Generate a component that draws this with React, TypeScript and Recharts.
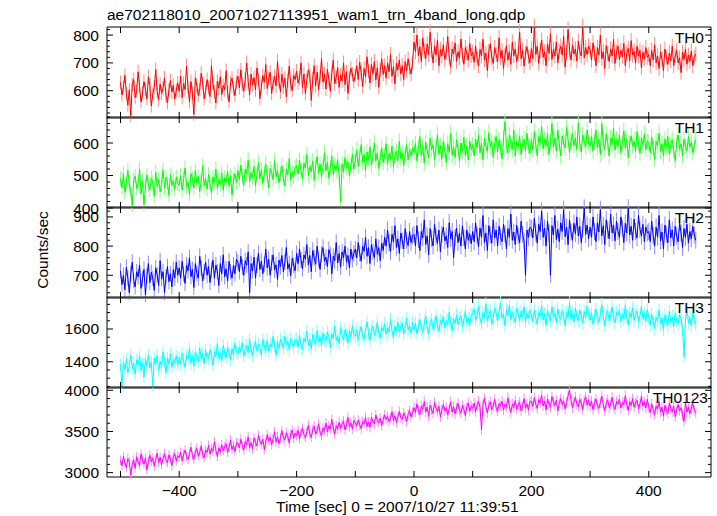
import React from 'react';
import { LineChart, Line, XAxis, YAxis, ErrorBar, ReferenceArea, ReferenceLine } from 'recharts';

// WAM light curves, 2.5 s steps from -500 s to 480 s
const TH0_VALUES = [
  630, 585, 612, 655, 590, 548, 603, 510, 622, 640, 575, 598, 668, 615, 560, 592, 633, 605, 571, 650,
  620, 545, 588, 612, 676, 598, 567, 624, 590, 610, 645, 582, 556, 603, 637, 595, 619, 570, 600, 628,
  598, 652, 575, 626, 604, 688, 611, 560, 633, 592, 515, 646, 620, 583, 605, 663, 628, 571, 598, 640,
  612, 579, 690, 625, 597, 556, 634, 609, 650, 586, 619, 603, 672, 594, 560, 628, 645, 607, 582, 630,
  652, 610, 675, 623, 598, 641, 700, 633, 586, 660, 621, 647, 603, 682, 639, 572, 616, 655, 630, 694,
  608, 643, 666, 590, 628, 651, 617, 705, 634, 596, 660, 612, 645, 578, 637, 689, 622, 601, 655, 640,
  670, 628, 645, 700, 612, 660, 590, 638, 675, 655, 565, 642, 690, 618, 667, 603, 650, 715, 631, 659,
  606, 677, 640, 598, 664, 710, 625, 648, 683, 612, 657, 635, 700, 622, 668, 590, 645, 681, 660, 633,
  655, 690, 640, 702, 666, 615, 680, 650, 722, 671, 628, 695, 660, 705, 638, 682, 612, 674, 715, 659,
  690, 645, 700, 668, 730, 652, 686, 625, 698, 675, 710, 660, 690, 640, 705, 672, 715, 683, 660, 700,
  775, 740, 800, 725, 758, 705, 790, 742, 716, 768, 730, 810, 745, 700, 760, 728, 782, 690, 748, 725,
  765, 712, 738, 795, 720, 686, 750, 732, 772, 705, 740, 718, 786, 728, 695, 755, 735, 710, 770, 726,
  738, 702, 760, 715, 690, 748, 725, 785, 710, 735, 672, 742, 768, 720, 698, 755, 730, 705, 790, 718,
  745, 680, 728, 762, 710, 740, 695, 775, 726, 750, 705, 732, 810, 715, 745, 688, 735, 758, 722, 700,
  752, 715, 830, 730, 760, 698, 745, 782, 720, 740, 690, 768, 735, 805, 712, 748, 725, 775, 700, 742,
  760, 728, 795, 685, 738, 820, 745, 710, 765, 732, 750, 706, 778, 740, 725, 830, 718, 755, 730, 760,
  748, 710, 772, 735, 690, 755, 728, 800, 715, 740, 680, 762, 733, 705, 750, 725, 785, 698, 738, 760,
  712, 745, 722, 770, 690, 735, 752, 708, 780, 728, 742, 700, 760, 725, 745, 682, 738, 715, 755, 720,
  730, 690, 745, 710, 765, 700, 725, 680, 740, 715, 672, 750, 720, 695, 735, 708, 760, 690, 725, 745,
  700, 718, 665, 738, 712, 750, 695, 728, 705, 742, 690, 720, 732,
];

const TH1_VALUES = [
  490, 462, 505, 448, 478, 515, 470, 452, 408, 487, 498, 460, 476, 520, 443, 483, 410, 468, 502, 471,
  455, 492, 480, 436, 510, 466, 488, 449, 473, 517, 461, 495, 478, 440, 502, 469, 485, 457, 496, 474,
  470, 500, 455, 488, 523, 466, 479, 442, 506, 490, 462, 515, 478, 497, 450, 484, 530, 468, 491, 458,
  503, 475, 446, 495, 482, 520, 461, 488, 472, 508, 455, 494, 480, 512, 467, 499, 440, 486, 505, 478,
  515, 488, 532, 497, 470, 520, 505, 548, 482, 510, 494, 528, 468, 503, 540, 490, 518, 476, 507, 535,
  499, 462, 522, 510, 487, 545, 496, 515, 478, 505, 530, 491, 468, 520, 503, 552, 486, 512, 495, 525,
  530, 505, 548, 515, 490, 538, 522, 565, 500, 528, 512, 545, 485, 530, 558, 508, 536, 495, 527, 570,
  515, 540, 492, 525, 560, 503, 532, 518, 548, 498, 420, 535, 512, 555, 525, 542, 500, 530, 565, 520,
  545, 578, 528, 560, 595, 540, 565, 515, 572, 550, 588, 532, 558, 600, 545, 570, 522, 555, 585, 540,
  562, 598, 535, 568, 548, 590, 528, 560, 575, 545, 605, 552, 570, 530, 565, 595, 548, 580, 560, 585,
  570, 598, 545, 585, 620, 560, 590, 538, 602, 575, 555, 615, 580, 595, 548, 588, 625, 565, 592, 550,
  605, 578, 540, 598, 570, 630, 562, 588, 555, 610, 582, 545, 600, 575, 618, 560, 590, 548, 605, 580,
  595, 560, 612, 585, 625, 570, 600, 548, 615, 590, 575, 632, 588, 605, 555, 598, 620, 572, 610, 585,
  550, 615, 665, 592, 570, 625, 598, 580, 640, 560, 605, 588, 622, 565, 598, 612, 575, 630, 590, 568,
  610, 578, 635, 595, 560, 620, 600, 650, 582, 612, 590, 628, 565, 605, 660, 588, 615, 575, 640, 598,
  560, 622, 600, 585, 648, 610, 570, 605, 630, 592, 615, 580, 662, 598, 572, 625, 605, 588, 640, 600,
  590, 620, 575, 605, 640, 585, 612, 565, 660, 598, 580, 628, 602, 560, 615, 595, 645, 578, 610, 590,
  625, 570, 600, 638, 585, 612, 555, 598, 622, 590, 605, 575, 635, 600, 568, 615, 592, 628, 580, 605,
  600, 570, 618, 585, 550, 605, 592, 630, 575, 598, 560, 612, 588, 620, 565, 595, 610, 578, 545, 600,
  625, 582, 598, 560, 612, 590, 575, 620, 588, 602, 570, 595, 610,
];

const TH2_VALUES = [
  715, 668, 700, 650, 728, 690, 640, 705, 745, 682, 660, 712, 695, 735, 655, 688, 720, 632, 698, 740,
  675, 710, 690, 648, 725, 702, 665, 750, 688, 712, 640, 695, 730, 678, 705, 660, 720, 690, 745, 700,
  725, 690, 748, 705, 672, 735, 715, 760, 695, 720, 658, 740, 708, 690, 765, 725, 680, 712, 745, 700,
  730, 675, 718, 752, 690, 735, 712, 665, 740, 705, 770, 695, 722, 680, 748, 712, 690, 735, 705, 755,
  745, 712, 765, 728, 700, 750, 735, 780, 640, 740, 715, 762, 690, 735, 775, 720, 748, 705, 738, 790,
  725, 755, 700, 742, 770, 718, 736, 685, 752, 730, 768, 712, 745, 795, 722, 740, 698, 758, 735, 715,
  775, 740, 790, 752, 722, 770, 755, 805, 735, 768, 712, 785, 760, 738, 800, 755, 720, 772, 795, 748,
  762, 730, 788, 770, 705, 765, 750, 812, 742, 775, 728, 780, 760, 800, 745, 768, 725, 790, 755, 775,
  790, 760, 812, 775, 748, 800, 782, 830, 765, 795, 740, 805, 780, 760, 825, 772, 795, 750, 810, 785,
  830, 800, 855, 812, 780, 840, 815, 870, 795, 825, 775, 845, 818, 790, 860, 820, 802, 850, 812, 835,
  840, 800, 870, 822, 785, 850, 828, 890, 805, 835, 770, 860, 825, 800, 875, 832, 810, 855, 780, 840,
  865, 818, 835, 795, 880, 825, 850, 760, 830, 862, 812, 845, 800, 870, 828, 790, 855, 820, 842, 808,
  850, 815, 880, 835, 798, 862, 830, 905, 812, 845, 785, 870, 838, 810, 890, 828, 855, 800, 868, 832,
  815, 875, 842, 790, 860, 830, 910, 820, 848, 805, 872, 835, 812, 885, 840, 818, 700, 855, 830, 865,
  860, 828, 895, 845, 810, 875, 850, 920, 830, 862, 800, 885, 845, 700, 870, 838, 905, 822, 858, 815,
  880, 850, 925, 832, 865, 805, 890, 848, 820, 878, 842, 900, 835, 868, 812, 858, 930, 840, 872, 825,
  865, 830, 900, 850, 815, 880, 848, 925, 835, 870, 805, 890, 855, 825, 910, 845, 872, 818, 885, 850,
  830, 900, 862, 812, 878, 845, 930, 838, 868, 820, 892, 850, 828, 905, 858, 835, 875, 815, 865, 845,
  850, 815, 885, 835, 800, 865, 830, 905, 818, 848, 790, 872, 840, 812, 890, 828, 855, 800, 868, 835,
  815, 880, 845, 795, 860, 830, 875, 810, 850, 825, 868, 838, 820,
];

const TH3_VALUES = [
  1383, 1248, 1398, 1350, 1418, 1333, 1376, 1440, 1358, 1393, 1324, 1411, 1381, 1436, 1348, 1394, 1306, 1418, 1371, 1442,
  1364, 1396, 1255, 1422, 1384, 1439, 1346, 1404, 1372, 1459, 1397, 1332, 1422, 1384, 1450, 1367, 1414, 1392, 1437, 1377,
  1427, 1385, 1455, 1402, 1367, 1439, 1415, 1482, 1392, 1432, 1371, 1459, 1429, 1399, 1484, 1417, 1447, 1389, 1471, 1424,
  1419, 1473, 1446, 1379, 1461, 1431, 1511, 1421, 1453, 1406, 1501, 1451, 1425, 1488, 1455, 1411, 1481, 1443, 1513, 1461,
  1448, 1491, 1464, 1516, 1434, 1476, 1501, 1456, 1538, 1471, 1436, 1496, 1523, 1463, 1506, 1480, 1443, 1536, 1490, 1468,
  1530, 1465, 1510, 1488, 1555, 1498, 1440, 1520, 1482, 1538, 1517, 1480, 1557, 1504, 1527, 1472, 1540, 1512, 1490, 1534,
  1534, 1489, 1561, 1509, 1474, 1544, 1521, 1587, 1499, 1537, 1479, 1566, 1536, 1506, 1591, 1526, 1553, 1496, 1576, 1531,
  1525, 1581, 1553, 1485, 1571, 1541, 1618, 1528, 1559, 1511, 1607, 1560, 1533, 1595, 1563, 1515, 1587, 1550, 1620, 1567,
  1555, 1598, 1530, 1580, 1615, 1562, 1538, 1590, 1645, 1572, 1530, 1595, 1618, 1560, 1585, 1640, 1575, 1545, 1610, 1588,
  1632, 1568, 1608, 1580, 1660, 1592, 1545, 1615, 1588, 1640, 1582, 1615, 1635, 1570, 1608, 1665, 1592, 1620, 1575, 1640,
  1592, 1635, 1570, 1620, 1658, 1600, 1578, 1628, 1680, 1610, 1572, 1637, 1660, 1600, 1627, 1682, 1617, 1587, 1652, 1630,
  1676, 1609, 1652, 1624, 1702, 1636, 1589, 1659, 1632, 1686, 1626, 1661, 1681, 1616, 1654, 1708, 1638, 1666, 1621, 1686,
  1690, 1720, 1655, 1680, 1740, 1662, 1635, 1700, 1675, 1752, 1648, 1685, 1712, 1628, 1670, 1730, 1695, 1650, 1705, 1760,
  1665, 1690, 1620, 1718, 1682, 1745, 1658, 1700, 1672, 1640, 1725, 1688, 1652, 1710, 1678, 1735, 1645, 1698, 1668, 1715,
  1690, 1645, 1718, 1665, 1630, 1700, 1678, 1745, 1655, 1692, 1622, 1710, 1680, 1650, 1735, 1670, 1698, 1640, 1722, 1675,
  1658, 1712, 1685, 1618, 1702, 1672, 1760, 1660, 1690, 1642, 1728, 1680, 1652, 1715, 1682, 1635, 1708, 1670, 1740, 1688,
  1655, 1698, 1630, 1680, 1722, 1665, 1640, 1690, 1748, 1675, 1620, 1688, 1712, 1650, 1678, 1735, 1668, 1638, 1702, 1682,
  1715, 1648, 1690, 1662, 1745, 1675, 1625, 1700, 1670, 1728, 1652, 1688, 1710, 1642, 1680, 1738, 1665, 1695, 1648, 1718,
  1665, 1625, 1690, 1640, 1605, 1672, 1650, 1715, 1630, 1668, 1598, 1685, 1655, 1622, 1708, 1645, 1675, 1612, 1695, 1650,
  1632, 1688, 1660, 1595, 1430, 1648, 1720, 1638, 1670, 1618, 1700, 1652, 1628,
];

const TH0123_VALUES = [
  3150, 3085, 3195, 3120, 3060, 3170, 3130, 2970, 3100, 3155, 3053, 3193, 3128, 3088, 3228, 3153, 3103, 3178, 3033, 3138,
  3212, 3132, 3177, 3077, 3157, 3237, 3122, 3187, 3097, 3167, 3235, 3150, 3120, 3215, 3165, 3085, 3195, 3230, 3140, 3205,
  3185, 3250, 3145, 3220, 3275, 3195, 3160, 3230, 3310, 3205, 3160, 3255, 3295, 3200, 3240, 3325, 3220, 3180, 3275, 3245,
  3330, 3225, 3295, 3260, 3375, 3270, 3195, 3300, 3255, 3340, 3265, 3315, 3350, 3245, 3305, 3395, 3280, 3330, 3255, 3360,
  3360, 3300, 3405, 3325, 3275, 3380, 3340, 3435, 3305, 3365, 3288, 3423, 3363, 3323, 3453, 3383, 3343, 3408, 3278, 3368,
  3462, 3387, 3427, 3337, 3412, 3497, 3372, 3437, 3352, 3422, 3510, 3425, 3395, 3485, 3440, 3360, 3470, 3515, 3415, 3480,
  3450, 3515, 3410, 3485, 3540, 3460, 3425, 3495, 3575, 3470, 3428, 3523, 3563, 3468, 3508, 3593, 3488, 3448, 3543, 3513,
  3602, 3497, 3567, 3532, 3647, 3542, 3467, 3572, 3527, 3612, 3540, 3590, 3625, 3520, 3580, 3670, 3555, 3605, 3530, 3635,
  3605, 3565, 3640, 3580, 3535, 3620, 3595, 3670, 3560, 3615, 3550, 3670, 3620, 3590, 3700, 3630, 3605, 3660, 3570, 3645,
  3700, 3645, 3680, 3620, 3660, 3740, 3635, 3690, 3610, 3675, 3745, 3670, 3645, 3725, 3685, 3620, 3710, 3755, 3675, 3730,
  3790, 3730, 3835, 3755, 3705, 3810, 3770, 3865, 3735, 3795, 3685, 3820, 3760, 3720, 3850, 3780, 3740, 3805, 3675, 3765,
  3825, 3750, 3790, 3700, 3775, 3860, 3735, 3800, 3715, 3785, 3840, 3755, 3725, 3815, 3770, 3690, 3800, 3845, 3745, 3810,
  3780, 3845, 3740, 3815, 3870, 3790, 3520, 3825, 3905, 3800, 3725, 3820, 3860, 3765, 3805, 3890, 3785, 3745, 3840, 3810,
  3865, 3760, 3830, 3795, 3910, 3805, 3730, 3835, 3790, 3875, 3770, 3820, 3855, 3750, 3810, 3900, 3785, 3835, 3760, 3865,
  3865, 3805, 3910, 3830, 3780, 3885, 3845, 3940, 3810, 3870, 3760, 3895, 3835, 3795, 3925, 3855, 3815, 3880, 3750, 3840,
  3900, 3825, 3865, 3775, 3850, 3935, 4005, 3875, 3790, 3860, 3915, 3830, 3800, 3890, 3845, 3765, 3875, 3920, 3820, 3885,
  3805, 3870, 3765, 3840, 3895, 3815, 3780, 3850, 3930, 3825, 3750, 3845, 3885, 3790, 3830, 3915, 3810, 3770, 3865, 3835,
  3890, 3785, 3855, 3820, 3935, 3830, 3755, 3860, 3815, 3900, 3795, 3845, 3880, 3775, 3835, 3925, 3810, 3860, 3785, 3890,
  3790, 3730, 3835, 3755, 3705, 3810, 3770, 3860, 3735, 3795, 3685, 3815, 3760, 3720, 3845, 3780, 3740, 3805, 3680, 3765,
  3825, 3750, 3790, 3700, 3620, 3855, 3735, 3800, 3715, 3785, 3840, 3755, 3725,
];

const TIME = TH0_VALUES.map((_, i) => -500 + 2.5 * i);

const X_DOMAIN = [-523, 506];
const X_TICKS = [-500, -400, -300, -200, -100, 0, 100, 200, 300, 400];

const FONT = '"Liberation Sans", Arial, Helvetica, sans-serif';
const W = 717;
const PLOT_LEFT = 107;
const PLOT_RIGHT = 710;
const PAD = 26;

const range = (a: number, b: number, step: number) => {
  const out: number[] = [];
  for (let v = a; v <= b + 1e-9; v += step) out.push(v);
  return out;
};

const panels = [
  { name: 'TH0', values: TH0_VALUES, color: '#ff0000', light: '#ff8a8a', domain: [502, 829], ticks: range(520, 820, 20), major: 100, top: 27, h: 90, labelX: 704 },
  { name: 'TH1', values: TH1_VALUES, color: '#00ff00', light: '#8aff8a', domain: [400, 680], ticks: range(400, 680, 20), major: 100, top: 117, h: 90, labelX: 704 },
  { name: 'TH2', values: TH2_VALUES, color: '#0000ff', light: '#8a8aff', domain: [622, 934], ticks: range(640, 920, 20), major: 100, top: 207, h: 90, labelX: 704 },
  { name: 'TH3', values: TH3_VALUES, color: '#00ffff', light: '#8affff', domain: [1240, 1795], ticks: range(1250, 1750, 50), major: 200, top: 297, h: 90, labelX: 704 },
  { name: 'TH0123', values: TH0123_VALUES, color: '#ff00ff', light: '#ff8aff', domain: [2947, 4040], ticks: range(3000, 4000, 100), major: 500, top: 387, h: 89, labelX: 708 },
];

const fmt = (v: number) => (v < 0 ? '\u2212' + Math.abs(v) : String(v));

const XLabel = (props: any) => {
  const { x, y, payload, showLabel } = props;
  const v = payload.value;
  if (!showLabel || v % 200 !== 0) return <g />;
  return (
    <text x={x} y={y + 19} textAnchor="middle" fontFamily={FONT} fontSize={15.5} fill="#000" stroke="none">
      {fmt(v)}
    </text>
  );
};

const YLabel = (props: any) => {
  const { x, y, payload, major } = props;
  const v = payload.value;
  if (Math.abs(v % major) > 1e-6) return <g />;
  return (
    <text x={x - 8} y={y + 5.5} textAnchor="end" fontFamily={FONT} fontSize={15.5} fill="#000" stroke="none">
      {fmt(v)}
    </text>
  );
};

const Panel = ({ p, last }: { p: (typeof panels)[number]; last: boolean }) => {
  const data = TIME.map((t, i) => ({ t, v: p.values[i], e: Math.sqrt(p.values[i]) }));
  const [lo, hi] = p.domain;
  const [xlo, xhi] = X_DOMAIN;
  const uy = (hi - lo) / p.h; // data units per pixel, vertical
  const ux = (xhi - xlo) / (PLOT_RIGHT - PLOT_LEFT); // data units per pixel, horizontal
  const tickProps = { xAxisId: 'b', yAxisId: 'l', stroke: '#000', strokeWidth: 1, ifOverflow: 'visible' as const };
  return (
    <div style={{ position: 'absolute', left: 0, top: p.top - PAD }}>
      <LineChart
        width={W}
        height={p.h + 2 * PAD + 2}
        data={data}
        margin={{ top: PAD, bottom: PAD, left: PLOT_LEFT - 60, right: W - PLOT_RIGHT - 1 }}
      >
        <XAxis
          xAxisId="b"
          dataKey="t"
          type="number"
          domain={X_DOMAIN}
          allowDataOverflow
          ticks={X_TICKS}
          interval={0}
          height={1}
          tickSize={0}
          tickMargin={0}
          stroke="#000"
          axisLine={false}
          tickLine={false}
          tick={<XLabel showLabel={last} />}
        />
        <XAxis xAxisId="t" orientation="top" type="number" domain={X_DOMAIN} allowDataOverflow height={1} hide />
        <YAxis
          yAxisId="l"
          type="number"
          domain={p.domain}
          allowDataOverflow
          ticks={p.ticks}
          interval={0}
          width={60}
          tickSize={0}
          tickMargin={0}
          stroke="#000"
          axisLine={false}
          tickLine={false}
          tick={<YLabel major={p.major} />}
        />
        <YAxis yAxisId="r" orientation="right" type="number" domain={p.domain} allowDataOverflow width={1} hide />
        <Line xAxisId="b" yAxisId="l" dataKey="v" stroke="none" dot={false} isAnimationActive={false}>
          <ErrorBar dataKey="e" width={0} stroke={p.light} strokeWidth={1} direction="y" />
        </Line>
        <Line xAxisId="b" yAxisId="l" dataKey="v" stroke={p.color} strokeWidth={1} dot={false} isAnimationActive={false} />
        {X_TICKS.map((t) => (
          <ReferenceLine key={`xb${t}`} {...tickProps} segment={[{ x: t, y: lo }, { x: t, y: lo + 6 * uy }]} />
        ))}
        {X_TICKS.map((t) => (
          <ReferenceLine key={`xt${t}`} {...tickProps} segment={[{ x: t, y: hi }, { x: t, y: hi - 6 * uy }]} />
        ))}
        {p.ticks.map((v) => {
          const len = (Math.abs(v % p.major) < 1e-6 ? 6 : 3) * ux;
          return (
            <ReferenceLine key={`yl${v}`} {...tickProps} segment={[{ x: xlo, y: v }, { x: xlo + len, y: v }]} />
          );
        })}
        {p.ticks.map((v) => {
          const len = (Math.abs(v % p.major) < 1e-6 ? 6 : 3) * ux;
          return (
            <ReferenceLine key={`yr${v}`} {...tickProps} segment={[{ x: xhi - len, y: v }, { x: xhi, y: v }]} />
          );
        })}
        <ReferenceArea
          xAxisId="b"
          yAxisId="l"
          x1={xlo}
          x2={xhi}
          y1={lo}
          y2={hi}
          fill="none"
          stroke="#000"
          strokeWidth={1}
          ifOverflow="visible"
        />
      </LineChart>
    </div>
  );
};

export default function App() {
  return (
    <div style={{ position: 'absolute', left: 0, top: 0, width: W, height: 516, background: '#fff' }}>
      {panels.map((p, i) => (
        <Panel key={p.name} p={p} last={i === panels.length - 1} />
      ))}
      <svg width={W} height={516} style={{ position: 'absolute', left: 0, top: 0, pointerEvents: 'none' }}>
        <text x={107} y={20} fontFamily={FONT} fontSize={15.5} fill="#000">
          ae702118010_20071027113951_wam1_trn_4band_long.qdp
        </text>
        <text x={42} y={250} transform="rotate(-90 42 250)" textAnchor="middle" dominantBaseline="central" fontFamily={FONT} fontSize={15.5} fill="#000">
          Counts/sec
        </text>
        <text x={276} y={512} fontFamily={FONT} fontSize={15.5} fill="#000">
          Time [sec] 0 = 2007/10/27 11:39:51
        </text>
        {panels.map((p) => (
          <text key={p.name} x={p.labelX} y={p.top + 16} textAnchor="end" fontFamily={FONT} fontSize={15.5} fill="#000">
            {p.name}
          </text>
        ))}
      </svg>
    </div>
  );
}
